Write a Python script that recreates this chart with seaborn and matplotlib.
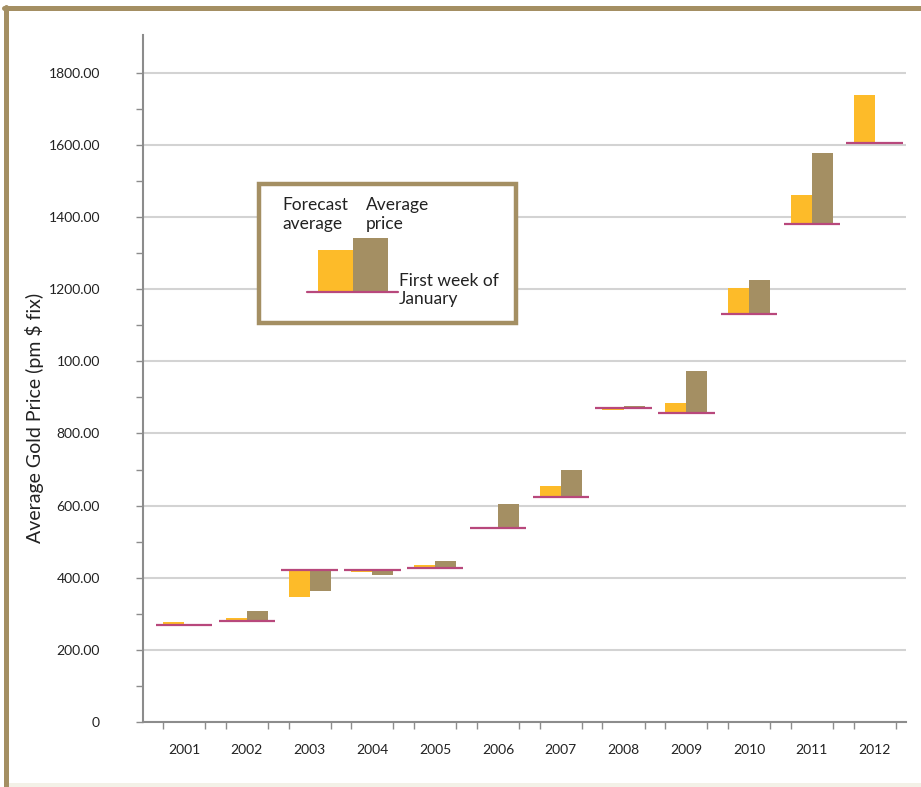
import numpy as np
import pandas as pd
import matplotlib
matplotlib.use("Agg")
import matplotlib.pyplot as plt
from matplotlib.patches import Rectangle
from matplotlib.lines import Line2D
import seaborn as sns

years = ["2001", "2002", "2003", "2004", "2005", "2006", "2007", "2008", "2009", "2010", "2011", "2012"]
first_week = [268, 281, 421, 421, 426, 538, 625, 870, 858, 1131, 1380, 1605]
forecast_avg = [277, 288, 347, 416, 435, 538, 654, 865, 884, 1203, 1460, 1740]
average_price = [271, 308, 363, 409, 446, 604, 699, 875, 973, 1227, 1577, 1605]
ytick_values = [0, 200, 400, 600, 800, 1000, 1200, 1400, 1600, 1800]
ytick_labels = ["0", "200.00", "400.00", "600.00", "800.00", "100.00", "1200.00", "1400.00", "1600.00", "1800.00"]

ORANGE = "#FDBB29"
BROWN = "#A48F63"
MAGENTA = "#B8487C"
GRID = "#D3D3D3"
SPINE = "#8C8C8C"

sns.set_theme(style="white")
plt.rcParams["font.family"] = ["Lato", "DejaVu Sans"]

df = pd.DataFrame({
    "year": years * 2,
    "series": ["Forecast average"] * 12 + ["Average price"] * 12,
    "delta": [f - b for f, b in zip(forecast_avg, first_week)] + [a - b for a, b in zip(average_price, first_week)],
})

fig = plt.figure(figsize=(9.21, 7.87), dpi=100)
ax = fig.add_axes([143 / 921, 65 / 787, (906 - 143) / 921, (722 - 35) / 787])

sns.barplot(data=df, x="year", y="delta", hue="series", order=years,
            hue_order=["Forecast average", "Average price"],
            palette=[ORANGE, BROWN], width=0.67, gap=0, dodge=True,
            bottom=np.array(first_week, dtype=float), legend=False,
            linewidth=0, saturation=1, errorbar=None, ax=ax, zorder=3)

xs = np.arange(len(years))
ax.hlines(first_week, xs - 0.45, xs + 0.45, colors=MAGENTA, linewidth=1.6, zorder=4)

ax.set_xlim(-0.655, 11.5)
ax.set_ylim(0, 1905)
ax.set_yticks(ytick_values)
ax.set_yticklabels(ytick_labels)
ax.set_yticks(np.arange(100, 1900, 200), minor=True)
ax.yaxis.grid(True, which="major", color=GRID, linewidth=1.5, zorder=0)
ax.set_axisbelow(True)

# x ticks at outer bar edges, labels at category centres
edge_ticks = np.sort(np.concatenate([xs - 0.335, xs + 0.335]))
ax.set_xticks(edge_ticks)
ax.set_xticklabels([])
ax.set_xticks(xs, minor=True)
ax.set_xticklabels(years, minor=True)
ax.tick_params(axis="x", which="major", direction="out", length=5, width=1, color=SPINE, bottom=True)
ax.tick_params(axis="x", which="minor", length=0, pad=16, labelsize=10, labelcolor="#222222")
ax.tick_params(axis="y", which="both", direction="out", length=5, width=1, color=SPINE, left=True,
               pad=26, labelsize=10, labelcolor="#222222")

ax.set_xlabel("")
ax.set_ylabel("Average Gold Price (pm $ fix)", fontsize=14, color="#222222")
ax.yaxis.set_label_coords(-0.1297, 0.4425)

for s in ["top", "right"]:
    ax.spines[s].set_visible(False)
for s in ["left", "bottom"]:
    ax.spines[s].set_color(SPINE)
    ax.spines[s].set_linewidth(1.5)

# legend box drawn in figure pixel coords
W, H = 921.0, 787.0
def fx(px):
    return px / W
def fy(py):
    return 1 - py / H

fig.add_artist(Rectangle((fx(259), fy(323)), (516 - 259) / W, (323 - 184) / H,
                         fill=True, facecolor="white", edgecolor=BROWN, linewidth=3.2,
                         transform=fig.transFigure, zorder=5))
fig.add_artist(Rectangle((fx(318), fy(292)), 35 / W, 42 / H, facecolor=ORANGE, edgecolor="none",
                         transform=fig.transFigure, zorder=6))
fig.add_artist(Rectangle((fx(353), fy(292)), 35 / W, 54 / H, facecolor=BROWN, edgecolor="none",
                         transform=fig.transFigure, zorder=6))
fig.add_artist(Line2D([fx(307), fx(398)], [fy(292), fy(292)], color=MAGENTA, linewidth=1.6,
                      transform=fig.transFigure, zorder=7))
fig.text(fx(282), fy(197), "Forecast\naverage", fontsize=12.5, va="top", ha="left",
         linespacing=1.2, color="#222222", zorder=8)
fig.text(fx(366), fy(197), "Average\nprice", fontsize=12.5, va="top", ha="left",
         linespacing=1.2, color="#222222", zorder=8)
fig.text(fx(399), fy(273), "First week of\nJanuary", fontsize=12.5, va="top", ha="left",
         linespacing=1.15, color="#222222", zorder=8)

# outer frame
fig.add_artist(Line2D([fx(5.5), fx(5.5)], [fy(7), fy(787)], color=BROWN, linewidth=3.6,
                      transform=fig.transFigure))
fig.add_artist(Line2D([fx(4), fx(921)], [fy(7.5), fy(7.5)], color=BROWN, linewidth=3.6,
                      transform=fig.transFigure))
fig.add_artist(Rectangle((fx(8), 0), 1, 4 / H, facecolor="#F3F1E7", edgecolor="none",
                         transform=fig.transFigure))

fig.savefig("out.png", dpi=100)
